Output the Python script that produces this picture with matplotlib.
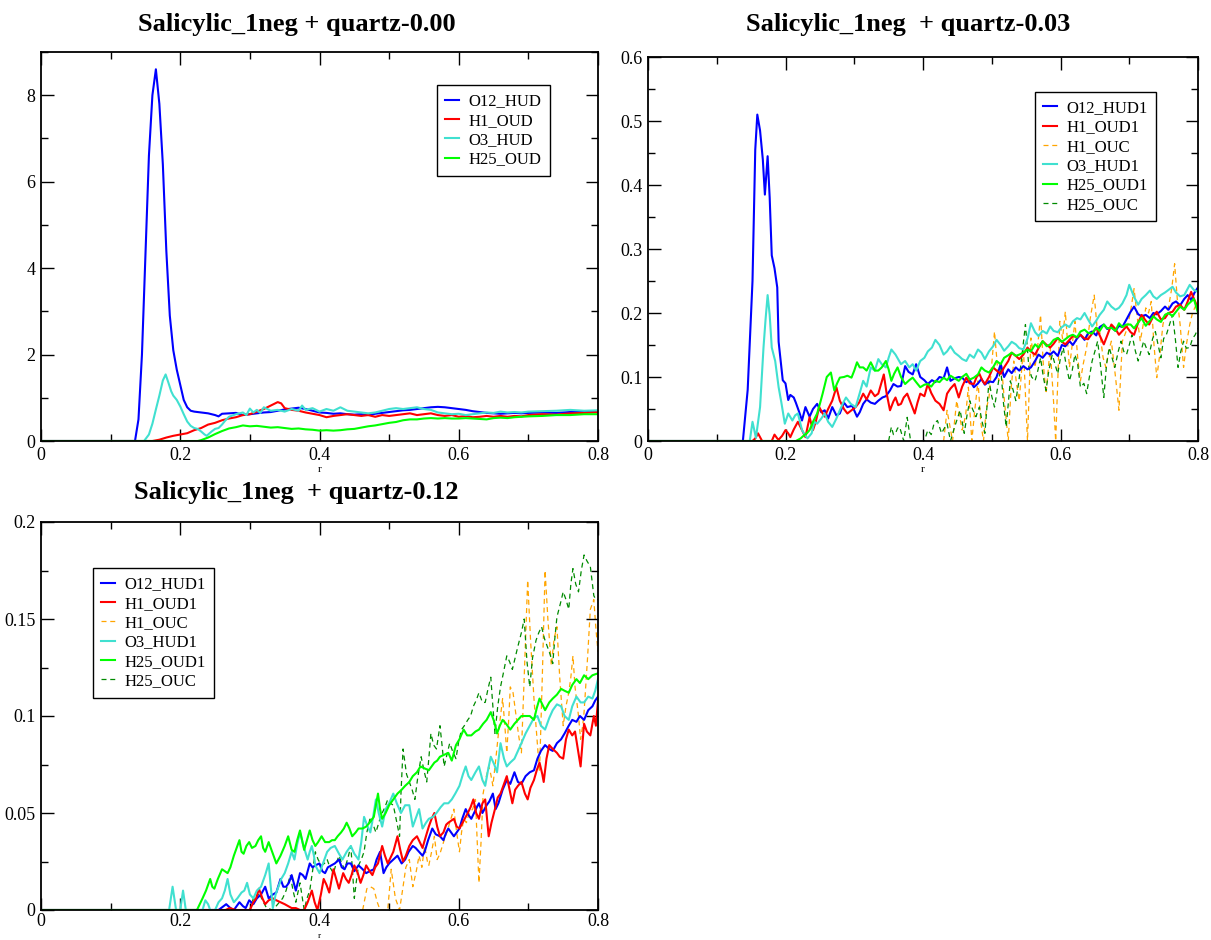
import matplotlib
matplotlib.use("Agg")
import matplotlib.pyplot as plt
from matplotlib.ticker import MultipleLocator, FuncFormatter

plt.rcParams['font.family'] = ['Liberation Serif', 'DejaVu Serif']

# ---------------- panel 1: quartz-0.00 (r, g) ----------------
p1_O12_HUD = [(0, 0), (0.135, 0), (0.14, 0.5), (0.145, 2.0), (0.15, 4.3), (0.155, 6.6), (0.16, 8.0), (0.165, 8.6),
              (0.17, 7.8), (0.175, 6.4), (0.18, 4.4), (0.185, 2.9), (0.19, 2.1), (0.195, 1.65), (0.2, 1.3), (0.205, 0.95),
              (0.21, 0.78), (0.215, 0.7), (0.22, 0.68), (0.23, 0.66), (0.24, 0.64), (0.25, 0.6), (0.255, 0.57), (0.26, 0.63),
              (0.27, 0.64), (0.28, 0.65), (0.29, 0.6), (0.3, 0.62), (0.31, 0.64), (0.32, 0.66), (0.33, 0.67), (0.34, 0.7),
              (0.35, 0.73), (0.36, 0.75), (0.37, 0.77), (0.38, 0.74), (0.39, 0.7), (0.4, 0.66), (0.41, 0.65), (0.42, 0.63),
              (0.43, 0.64), (0.44, 0.62), (0.45, 0.61), (0.46, 0.62), (0.47, 0.6), (0.48, 0.63), (0.49, 0.65), (0.5, 0.67),
              (0.51, 0.69), (0.52, 0.71), (0.53, 0.72), (0.54, 0.74), (0.55, 0.76), (0.56, 0.78), (0.57, 0.79), (0.58, 0.78),
              (0.59, 0.76), (0.6, 0.74), (0.61, 0.72), (0.62, 0.69), (0.63, 0.67), (0.64, 0.65), (0.65, 0.64), (0.66, 0.63),
              (0.67, 0.64), (0.68, 0.65), (0.69, 0.64), (0.7, 0.65), (0.72, 0.66), (0.74, 0.65), (0.76, 0.67), (0.78, 0.68),
              (0.8, 0.69)]
p1_H1_OUD = [(0, 0), (0.16, 0), (0.17, 0.03), (0.18, 0.08), (0.19, 0.12), (0.2, 0.15), (0.21, 0.18), (0.22, 0.25),
             (0.23, 0.3), (0.24, 0.38), (0.25, 0.42), (0.26, 0.48), (0.27, 0.52), (0.28, 0.55), (0.29, 0.6), (0.3, 0.62),
             (0.31, 0.68), (0.32, 0.74), (0.33, 0.82), (0.335, 0.86), (0.34, 0.9), (0.345, 0.87), (0.35, 0.76), (0.36, 0.72),
             (0.37, 0.7), (0.38, 0.66), (0.39, 0.63), (0.4, 0.6), (0.41, 0.55), (0.42, 0.58), (0.43, 0.6), (0.44, 0.62),
             (0.45, 0.6), (0.46, 0.58), (0.47, 0.6), (0.48, 0.56), (0.49, 0.6), (0.5, 0.58), (0.51, 0.6), (0.52, 0.62),
             (0.53, 0.64), (0.54, 0.6), (0.55, 0.62), (0.56, 0.64), (0.57, 0.6), (0.58, 0.58), (0.59, 0.6), (0.6, 0.56),
             (0.61, 0.58), (0.62, 0.55), (0.63, 0.56), (0.64, 0.58), (0.65, 0.56), (0.66, 0.58), (0.67, 0.56), (0.68, 0.58),
             (0.69, 0.57), (0.7, 0.6), (0.72, 0.62), (0.74, 0.61), (0.76, 0.64), (0.78, 0.65), (0.8, 0.67)]
p1_O3_HUD = [(0, 0), (0.148, 0), (0.155, 0.15), (0.16, 0.4), (0.165, 0.73), (0.17, 1.05), (0.175, 1.4), (0.179, 1.54),
             (0.183, 1.35), (0.187, 1.15), (0.19, 1.05), (0.195, 0.95), (0.2, 0.8), (0.205, 0.62), (0.21, 0.45), (0.215, 0.35),
             (0.22, 0.3), (0.225, 0.28), (0.23, 0.22), (0.235, 0.15), (0.238, 0.12), (0.245, 0.22), (0.25, 0.28), (0.255, 0.3),
             (0.26, 0.38), (0.265, 0.48), (0.27, 0.56), (0.28, 0.62), (0.29, 0.66), (0.295, 0.6), (0.3, 0.75), (0.305, 0.66),
             (0.31, 0.72), (0.315, 0.65), (0.32, 0.78), (0.33, 0.7), (0.34, 0.72), (0.35, 0.68), (0.36, 0.74), (0.37, 0.7),
             (0.375, 0.82), (0.38, 0.72), (0.39, 0.76), (0.4, 0.68), (0.41, 0.74), (0.42, 0.7), (0.43, 0.78), (0.44, 0.7),
             (0.45, 0.68), (0.46, 0.66), (0.47, 0.64), (0.48, 0.66), (0.49, 0.7), (0.5, 0.74), (0.51, 0.76), (0.52, 0.74),
             (0.53, 0.76), (0.54, 0.78), (0.55, 0.74), (0.56, 0.72), (0.57, 0.66), (0.58, 0.64), (0.59, 0.62), (0.6, 0.63),
             (0.61, 0.6), (0.62, 0.62), (0.63, 0.64), (0.64, 0.66), (0.65, 0.65), (0.66, 0.68), (0.67, 0.66), (0.68, 0.67),
             (0.69, 0.66), (0.7, 0.68), (0.72, 0.69), (0.74, 0.7), (0.76, 0.72), (0.78, 0.7), (0.8, 0.71)]
p1_H25_OUD = [(0, 0), (0.225, 0), (0.23, 0.02), (0.24, 0.08), (0.25, 0.16), (0.26, 0.23), (0.27, 0.29), (0.28, 0.32),
              (0.29, 0.36), (0.3, 0.34), (0.31, 0.35), (0.32, 0.33), (0.33, 0.31), (0.34, 0.32), (0.35, 0.3), (0.36, 0.28),
              (0.37, 0.29), (0.38, 0.27), (0.39, 0.26), (0.4, 0.24), (0.41, 0.25), (0.42, 0.24), (0.43, 0.25), (0.44, 0.27),
              (0.45, 0.28), (0.46, 0.31), (0.47, 0.34), (0.48, 0.36), (0.49, 0.39), (0.5, 0.42), (0.51, 0.44), (0.52, 0.48),
              (0.53, 0.5), (0.54, 0.5), (0.55, 0.52), (0.56, 0.53), (0.57, 0.52), (0.58, 0.53), (0.59, 0.52), (0.6, 0.52),
              (0.61, 0.53), (0.62, 0.52), (0.63, 0.51), (0.64, 0.5), (0.65, 0.53), (0.66, 0.54), (0.67, 0.53), (0.68, 0.55),
              (0.69, 0.56), (0.7, 0.57), (0.72, 0.58), (0.74, 0.6), (0.76, 0.6), (0.78, 0.62), (0.8, 0.62)]

# ---------------- panel 2: quartz-0.03 (r, g) ----------------
p2_O12_HUD1 = [(0, 0), (0.138, 0), (0.145, 0.08), (0.152, 0.25), (0.156, 0.455), (0.159, 0.51), (0.163, 0.485), (0.167, 0.44),
               (0.17, 0.385), (0.174, 0.445), (0.177, 0.38), (0.18, 0.29), (0.184, 0.27), (0.188, 0.24), (0.19, 0.155),
               (0.196, 0.095), (0.2, 0.09), (0.204, 0.064), (0.207, 0.072), (0.212, 0.068), (0.215, 0.06), (0.22, 0.045),
               (0.224, 0.032), (0.229, 0.053), (0.235, 0.038), (0.24, 0.05), (0.246, 0.058), (0.252, 0.045), (0.257, 0.048),
               (0.262, 0.035), (0.268, 0.053), (0.274, 0.04), (0.279, 0.043), (0.285, 0.06), (0.29, 0.053), (0.297, 0.055),
               (0.304, 0.038), (0.308, 0.045), (0.313, 0.058), (0.318, 0.065), (0.324, 0.06), (0.33, 0.058), (0.335, 0.063),
               (0.341, 0.068), (0.346, 0.07), (0.352, 0.079), (0.357, 0.089), (0.363, 0.085), (0.368, 0.086), (0.374, 0.117),
               (0.379, 0.108), (0.385, 0.104), (0.39, 0.12), (0.396, 0.1), (0.402, 0.095), (0.407, 0.089), (0.413, 0.095),
               (0.418, 0.092), (0.424, 0.1), (0.43, 0.098), (0.435, 0.115), (0.44, 0.094), (0.446, 0.098), (0.452, 0.1),
               (0.457, 0.099), (0.463, 0.092), (0.468, 0.095), (0.474, 0.084), (0.48, 0.09), (0.485, 0.097), (0.49, 0.088),
               (0.496, 0.093), (0.502, 0.092), (0.507, 0.1), (0.513, 0.12), (0.518, 0.1), (0.524, 0.112), (0.529, 0.106),
               (0.535, 0.115), (0.54, 0.11), (0.546, 0.117), (0.552, 0.112), (0.557, 0.115), (0.563, 0.125), (0.568, 0.135),
               (0.574, 0.13), (0.58, 0.138), (0.585, 0.135), (0.59, 0.14), (0.596, 0.133), (0.602, 0.15), (0.607, 0.148),
               (0.613, 0.156), (0.618, 0.15), (0.624, 0.16), (0.629, 0.166), (0.635, 0.158), (0.64, 0.168), (0.646, 0.171),
               (0.652, 0.165), (0.657, 0.178), (0.663, 0.182), (0.668, 0.175), (0.674, 0.178), (0.68, 0.172), (0.685, 0.18),
               (0.69, 0.178), (0.696, 0.19), (0.702, 0.202), (0.707, 0.21), (0.713, 0.198), (0.718, 0.195), (0.724, 0.197),
               (0.73, 0.192), (0.735, 0.2), (0.74, 0.198), (0.746, 0.203), (0.752, 0.21), (0.757, 0.205), (0.763, 0.215),
               (0.768, 0.218), (0.774, 0.212), (0.78, 0.222), (0.785, 0.228), (0.79, 0.22), (0.795, 0.232), (0.8, 0.24)]
p2_H1_OUD1 = [(0, 0), (0.152, 0), (0.156, 0.004), (0.16, 0.012), (0.163, 0.006), (0.166, 0), (0.18, 0), (0.184, 0.01),
              (0.188, 0.004), (0.19, 0.002), (0.195, 0.008), (0.2, 0.017), (0.204, 0.012), (0.207, 0.006), (0.212, 0.018),
              (0.218, 0.03), (0.224, 0.017), (0.229, 0.006), (0.235, 0.037), (0.24, 0.017), (0.244, 0.03), (0.249, 0.053),
              (0.253, 0.045), (0.257, 0.038), (0.262, 0.05), (0.268, 0.063), (0.274, 0.084), (0.279, 0.063), (0.285, 0.05),
              (0.29, 0.043), (0.296, 0.048), (0.302, 0.053), (0.307, 0.06), (0.313, 0.074), (0.318, 0.065), (0.324, 0.079),
              (0.33, 0.07), (0.335, 0.074), (0.343, 0.104), (0.347, 0.075), (0.352, 0.048), (0.357, 0.062), (0.36, 0.068),
              (0.364, 0.056), (0.368, 0.058), (0.372, 0.068), (0.377, 0.074), (0.382, 0.06), (0.388, 0.043), (0.392, 0.06),
              (0.396, 0.074), (0.402, 0.07), (0.407, 0.089), (0.412, 0.075), (0.418, 0.063), (0.424, 0.058), (0.43, 0.048),
              (0.435, 0.074), (0.44, 0.082), (0.446, 0.089), (0.452, 0.068), (0.457, 0.085), (0.463, 0.099), (0.468, 0.09),
              (0.474, 0.089), (0.478, 0.1), (0.482, 0.105), (0.486, 0.095), (0.49, 0.089), (0.496, 0.1), (0.502, 0.115),
              (0.507, 0.11), (0.513, 0.105), (0.518, 0.115), (0.524, 0.125), (0.529, 0.138), (0.535, 0.133), (0.54, 0.128),
              (0.546, 0.135), (0.552, 0.146), (0.557, 0.14), (0.563, 0.135), (0.568, 0.145), (0.574, 0.156), (0.58, 0.15),
              (0.585, 0.146), (0.59, 0.152), (0.596, 0.161), (0.602, 0.155), (0.607, 0.151), (0.613, 0.158), (0.618, 0.164),
              (0.624, 0.162), (0.629, 0.166), (0.635, 0.16), (0.64, 0.159), (0.646, 0.168), (0.652, 0.177), (0.657, 0.165),
              (0.663, 0.151), (0.668, 0.165), (0.674, 0.182), (0.68, 0.175), (0.685, 0.166), (0.69, 0.172), (0.696, 0.179),
              (0.702, 0.17), (0.707, 0.166), (0.713, 0.185), (0.718, 0.197), (0.724, 0.188), (0.729, 0.182), (0.735, 0.195),
              (0.74, 0.202), (0.746, 0.19), (0.752, 0.192), (0.757, 0.2), (0.763, 0.202), (0.768, 0.21), (0.774, 0.213),
              (0.78, 0.205), (0.785, 0.218), (0.79, 0.233), (0.795, 0.22), (0.8, 0.208)]
p2_H1_OUC = [(0.43, 0), (0.435, 0.048), (0.443, 0), (0.449, 0.063), (0.457, 0.017), (0.462, 0.04), (0.466, 0.084), (0.471, 0),
             (0.475, 0.045), (0.48, 0.094), (0.484, 0.03), (0.488, 0), (0.492, 0.05), (0.496, 0.068), (0.5, 0.12), (0.504, 0.171),
             (0.51, 0.094), (0.514, 0.12), (0.518, 0.068), (0.524, 0), (0.528, 0.08), (0.532, 0.125), (0.536, 0.09),
             (0.54, 0.063), (0.546, 0.146), (0.552, 0), (0.557, 0.161), (0.563, 0.115), (0.567, 0.15), (0.571, 0.197),
             (0.575, 0.12), (0.579, 0.074), (0.585, 0.146), (0.59, 0.06), (0.593, 0), (0.599, 0.187), (0.603, 0.16),
             (0.607, 0.202), (0.613, 0.115), (0.617, 0.15), (0.621, 0.187), (0.625, 0.13), (0.629, 0.094), (0.633, 0.12),
             (0.638, 0.146), (0.643, 0.19), (0.649, 0.228), (0.653, 0.18), (0.657, 0.171), (0.662, 0.13), (0.666, 0.115),
             (0.67, 0.14), (0.674, 0.156), (0.68, 0.1), (0.685, 0.048), (0.69, 0.156), (0.695, 0.17), (0.699, 0.187),
             (0.703, 0.21), (0.707, 0.238), (0.712, 0.19), (0.716, 0.156), (0.72, 0.18), (0.724, 0.208), (0.728, 0.2),
             (0.732, 0.218), (0.736, 0.15), (0.74, 0.099), (0.745, 0.14), (0.749, 0.182), (0.753, 0.2), (0.757, 0.208),
             (0.762, 0.24), (0.766, 0.277), (0.77, 0.22), (0.774, 0.182), (0.779, 0.115), (0.783, 0.15), (0.788, 0.182),
             (0.792, 0.2), (0.796, 0.21), (0.8, 0.208)]
p2_O3_HUD1 = [(0, 0), (0.148, 0), (0.152, 0.03), (0.157, 0.005), (0.163, 0.053), (0.168, 0.146), (0.171, 0.19), (0.174, 0.228),
              (0.177, 0.197), (0.18, 0.146), (0.185, 0.125), (0.19, 0.084), (0.194, 0.06), (0.199, 0.027), (0.204, 0.043),
              (0.21, 0.032), (0.214, 0.04), (0.218, 0.043), (0.224, 0.017), (0.228, 0.01), (0.232, 0.004), (0.238, 0.012),
              (0.242, 0.03), (0.246, 0.027), (0.252, 0.035), (0.257, 0.043), (0.262, 0.03), (0.268, 0.022), (0.274, 0.035),
              (0.279, 0.048), (0.284, 0.06), (0.288, 0.068), (0.295, 0.058), (0.302, 0.053), (0.308, 0.075), (0.313, 0.094),
              (0.318, 0.085), (0.324, 0.115), (0.33, 0.11), (0.335, 0.128), (0.34, 0.12), (0.346, 0.115), (0.35, 0.13),
              (0.354, 0.143), (0.36, 0.135), (0.368, 0.12), (0.374, 0.125), (0.38, 0.115), (0.385, 0.12), (0.39, 0.11),
              (0.396, 0.125), (0.402, 0.13), (0.407, 0.14), (0.413, 0.146), (0.418, 0.158), (0.424, 0.15), (0.43, 0.135),
              (0.435, 0.14), (0.44, 0.148), (0.446, 0.138), (0.452, 0.133), (0.457, 0.128), (0.463, 0.125), (0.468, 0.135),
              (0.474, 0.13), (0.48, 0.143), (0.485, 0.138), (0.49, 0.128), (0.496, 0.14), (0.502, 0.148), (0.507, 0.158),
              (0.513, 0.15), (0.518, 0.141), (0.524, 0.148), (0.529, 0.155), (0.535, 0.151), (0.54, 0.145), (0.546, 0.143),
              (0.552, 0.16), (0.557, 0.184), (0.563, 0.17), (0.568, 0.164), (0.574, 0.172), (0.58, 0.168), (0.585, 0.179),
              (0.59, 0.172), (0.596, 0.17), (0.601, 0.177), (0.607, 0.182), (0.613, 0.178), (0.618, 0.187), (0.624, 0.192),
              (0.629, 0.19), (0.635, 0.2), (0.64, 0.19), (0.646, 0.179), (0.652, 0.188), (0.657, 0.197), (0.663, 0.205),
              (0.668, 0.218), (0.674, 0.21), (0.68, 0.205), (0.685, 0.208), (0.69, 0.215), (0.696, 0.228), (0.7, 0.244),
              (0.707, 0.225), (0.713, 0.213), (0.718, 0.222), (0.724, 0.228), (0.73, 0.235), (0.735, 0.226), (0.74, 0.222),
              (0.746, 0.228), (0.752, 0.232), (0.757, 0.236), (0.763, 0.241), (0.768, 0.232), (0.774, 0.226), (0.78, 0.228),
              (0.785, 0.238), (0.788, 0.244), (0.794, 0.236), (0.8, 0.233)]
p2_H25_OUD1 = [(0, 0), (0.215, 0), (0.222, 0.004), (0.227, 0.009), (0.231, 0.012), (0.235, 0.017), (0.24, 0.03), (0.246, 0.043),
               (0.25, 0.058), (0.254, 0.074), (0.26, 0.1), (0.266, 0.107), (0.271, 0.079), (0.275, 0.09), (0.279, 0.099),
               (0.285, 0.1), (0.29, 0.102), (0.296, 0.099), (0.3, 0.11), (0.304, 0.123), (0.308, 0.115), (0.313, 0.115),
               (0.318, 0.11), (0.324, 0.123), (0.33, 0.11), (0.335, 0.11), (0.34, 0.115), (0.346, 0.125), (0.35, 0.112),
               (0.354, 0.094), (0.358, 0.105), (0.363, 0.115), (0.368, 0.1), (0.374, 0.089), (0.38, 0.095), (0.385, 0.099),
               (0.39, 0.092), (0.396, 0.084), (0.402, 0.088), (0.407, 0.089), (0.412, 0.085), (0.418, 0.094), (0.424, 0.092),
               (0.43, 0.099), (0.435, 0.095), (0.44, 0.102), (0.446, 0.098), (0.452, 0.094), (0.457, 0.1), (0.463, 0.105),
               (0.468, 0.096), (0.474, 0.099), (0.48, 0.104), (0.485, 0.115), (0.49, 0.11), (0.496, 0.107), (0.502, 0.115),
               (0.507, 0.125), (0.513, 0.12), (0.518, 0.13), (0.524, 0.134), (0.529, 0.138), (0.535, 0.133), (0.54, 0.135),
               (0.546, 0.138), (0.552, 0.143), (0.557, 0.14), (0.563, 0.151), (0.568, 0.146), (0.574, 0.156), (0.58, 0.148),
               (0.585, 0.151), (0.59, 0.158), (0.596, 0.161), (0.602, 0.155), (0.607, 0.159), (0.613, 0.164), (0.618, 0.166),
               (0.624, 0.162), (0.629, 0.171), (0.635, 0.174), (0.64, 0.169), (0.646, 0.168), (0.652, 0.177), (0.657, 0.172),
               (0.663, 0.182), (0.668, 0.176), (0.674, 0.177), (0.68, 0.172), (0.685, 0.184), (0.69, 0.178), (0.696, 0.182),
               (0.702, 0.182), (0.707, 0.176), (0.713, 0.185), (0.718, 0.192), (0.724, 0.18), (0.73, 0.188), (0.735, 0.195),
               (0.74, 0.19), (0.746, 0.186), (0.752, 0.197), (0.757, 0.2), (0.763, 0.195), (0.768, 0.202), (0.774, 0.21),
               (0.78, 0.205), (0.785, 0.213), (0.79, 0.218), (0.794, 0.222), (0.8, 0.2)]
p2_H25_OUC = [(0.35, 0), (0.354, 0.022), (0.357, 0.01), (0.36, 0.012), (0.363, 0.02), (0.366, 0.022), (0.372, 0), (0.377, 0.037),
              (0.382, 0), (0.402, 0), (0.407, 0.017), (0.412, 0.01), (0.416, 0.027), (0.421, 0.032), (0.427, 0.012),
              (0.431, 0.02), (0.435, 0.027), (0.44, 0), (0.446, 0.022), (0.45, 0.035), (0.454, 0.048), (0.46, 0.012),
              (0.464, 0.04), (0.468, 0.063), (0.472, 0.05), (0.477, 0.038), (0.482, 0.053), (0.486, 0.03), (0.49, 0.012),
              (0.496, 0.094), (0.5, 0.07), (0.504, 0.053), (0.508, 0.08), (0.513, 0.115), (0.517, 0.06), (0.521, 0.022),
              (0.527, 0.094), (0.531, 0.08), (0.535, 0.063), (0.539, 0.09), (0.543, 0.125), (0.549, 0.182), (0.554, 0.115),
              (0.558, 0.1), (0.563, 0.094), (0.567, 0.11), (0.571, 0.13), (0.575, 0.1), (0.579, 0.079), (0.583, 0.11),
              (0.588, 0.135), (0.592, 0.12), (0.596, 0.105), (0.6, 0.13), (0.604, 0.146), (0.608, 0.12), (0.613, 0.094),
              (0.617, 0.11), (0.621, 0.135), (0.625, 0.12), (0.629, 0.084), (0.634, 0.09), (0.638, 0.074), (0.642, 0.1),
              (0.646, 0.125), (0.65, 0.14), (0.654, 0.156), (0.658, 0.12), (0.663, 0.068), (0.667, 0.12), (0.671, 0.146),
              (0.675, 0.13), (0.679, 0.115), (0.684, 0.14), (0.688, 0.156), (0.692, 0.14), (0.696, 0.135), (0.7, 0.15),
              (0.704, 0.166), (0.709, 0.14), (0.713, 0.125), (0.717, 0.14), (0.721, 0.156), (0.725, 0.145), (0.729, 0.135),
              (0.734, 0.16), (0.738, 0.171), (0.742, 0.15), (0.746, 0.13), (0.75, 0.16), (0.754, 0.166), (0.758, 0.18),
              (0.763, 0.197), (0.767, 0.16), (0.771, 0.115), (0.775, 0.14), (0.779, 0.156), (0.783, 0.145), (0.788, 0.146),
              (0.792, 0.16), (0.796, 0.166), (0.8, 0.176)]

# ---------------- panel 3: quartz-0.12 (r, g) ----------------
p3_O12_HUD1 = [(0, 0), (0.255, 0), (0.266, 0.003), (0.272, 0.001), (0.277, 0), (0.285, 0.004), (0.29, 0.002), (0.294, 0.001),
               (0.299, 0.005), (0.305, 0.003), (0.31, 0.006), (0.316, 0.008), (0.322, 0.012), (0.327, 0.006), (0.333, 0.008),
               (0.338, 0.009), (0.344, 0.016), (0.348, 0.012), (0.352, 0.012), (0.356, 0.014), (0.36, 0.018), (0.366, 0.01),
               (0.372, 0.019), (0.376, 0.018), (0.38, 0.016), (0.386, 0.024), (0.39, 0.022), (0.394, 0.023), (0.4, 0.024),
               (0.404, 0.02), (0.408, 0.019), (0.412, 0.022), (0.417, 0.023), (0.422, 0.024), (0.428, 0.026), (0.432, 0.022),
               (0.436, 0.021), (0.44, 0.024), (0.445, 0.024), (0.45, 0.02), (0.456, 0.023), (0.462, 0.021), (0.467, 0.019),
               (0.472, 0.02), (0.478, 0.021), (0.482, 0.026), (0.487, 0.03), (0.492, 0.019), (0.496, 0.022), (0.5, 0.024),
               (0.506, 0.026), (0.512, 0.028), (0.518, 0.024), (0.523, 0.026), (0.528, 0.03), (0.534, 0.033), (0.538, 0.032),
               (0.543, 0.03), (0.548, 0.028), (0.551, 0.03), (0.556, 0.036), (0.562, 0.042), (0.567, 0.039), (0.573, 0.038),
               (0.578, 0.036), (0.582, 0.04), (0.585, 0.042), (0.589, 0.04), (0.593, 0.038), (0.597, 0.04), (0.601, 0.042),
               (0.605, 0.047), (0.61, 0.052), (0.614, 0.049), (0.618, 0.047), (0.622, 0.05), (0.626, 0.053), (0.629, 0.055),
               (0.634, 0.05), (0.64, 0.054), (0.644, 0.056), (0.649, 0.06), (0.653, 0.052), (0.657, 0.055), (0.663, 0.062),
               (0.669, 0.067), (0.674, 0.065), (0.68, 0.071), (0.685, 0.066), (0.69, 0.065), (0.696, 0.069), (0.702, 0.071),
               (0.708, 0.072), (0.713, 0.078), (0.718, 0.082), (0.724, 0.085), (0.73, 0.083), (0.735, 0.082), (0.741, 0.086),
               (0.747, 0.088), (0.752, 0.091), (0.758, 0.095), (0.763, 0.098), (0.769, 0.097), (0.774, 0.1), (0.78, 0.098),
               (0.786, 0.103), (0.792, 0.105), (0.796, 0.108), (0.8, 0.11)]
p3_H1_OUD1 = [(0, 0), (0.265, 0), (0.271, 0.001), (0.28, 0), (0.3, 0), (0.305, 0.004), (0.309, 0.006), (0.313, 0.011),
              (0.318, 0.006), (0.322, 0.003), (0.327, 0.005), (0.333, 0.006), (0.338, 0.005), (0.344, 0.004), (0.35, 0.003),
              (0.355, 0.002), (0.36, 0.001), (0.366, 0.001), (0.372, 0), (0.378, 0), (0.383, 0.004), (0.389, 0.01),
              (0.393, 0.004), (0.397, 0), (0.402, 0.008), (0.406, 0.016), (0.41, 0.013), (0.414, 0.009), (0.42, 0.021),
              (0.424, 0.016), (0.428, 0.011), (0.434, 0.019), (0.438, 0.016), (0.442, 0.014), (0.446, 0.018), (0.45, 0.023),
              (0.455, 0.019), (0.459, 0.014), (0.463, 0.018), (0.467, 0.023), (0.472, 0.02), (0.476, 0.018), (0.48, 0.022),
              (0.484, 0.024), (0.49, 0.033), (0.494, 0.028), (0.498, 0.024), (0.502, 0.027), (0.506, 0.03), (0.512, 0.038),
              (0.516, 0.031), (0.52, 0.025), (0.524, 0.028), (0.529, 0.033), (0.534, 0.036), (0.54, 0.038), (0.544, 0.035),
              (0.548, 0.032), (0.552, 0.037), (0.557, 0.043), (0.561, 0.047), (0.565, 0.05), (0.569, 0.043), (0.573, 0.038),
              (0.578, 0.04), (0.582, 0.044), (0.585, 0.045), (0.589, 0.046), (0.593, 0.047), (0.597, 0.043), (0.601, 0.042),
              (0.607, 0.046), (0.613, 0.05), (0.617, 0.053), (0.621, 0.057), (0.625, 0.05), (0.629, 0.047), (0.634, 0.055),
              (0.638, 0.057), (0.643, 0.038), (0.647, 0.045), (0.652, 0.052), (0.656, 0.058), (0.66, 0.06), (0.665, 0.065),
              (0.669, 0.069), (0.673, 0.062), (0.677, 0.055), (0.681, 0.062), (0.685, 0.064), (0.69, 0.066), (0.695, 0.06),
              (0.699, 0.057), (0.703, 0.063), (0.708, 0.067), (0.712, 0.072), (0.716, 0.076), (0.72, 0.07), (0.722, 0.066),
              (0.726, 0.078), (0.73, 0.085), (0.735, 0.083), (0.741, 0.081), (0.745, 0.079), (0.75, 0.078), (0.754, 0.088),
              (0.758, 0.093), (0.763, 0.09), (0.767, 0.092), (0.771, 0.083), (0.775, 0.074), (0.78, 0.096), (0.784, 0.092),
              (0.789, 0.09), (0.794, 0.1), (0.797, 0.095), (0.8, 0.108)]
p3_H1_OUC = [(0.462, 0), (0.468, 0.011), (0.473, 0.012), (0.478, 0.011), (0.483, 0.004), (0.487, 0), (0.498, 0), (0.503, 0.021),
             (0.509, 0.006), (0.515, 0), (0.52, 0.012), (0.524, 0.022), (0.529, 0.026), (0.534, 0.012), (0.539, 0.02),
             (0.543, 0.028), (0.547, 0.022), (0.551, 0.033), (0.555, 0.025), (0.557, 0.023), (0.561, 0.03), (0.565, 0.038),
             (0.569, 0.026), (0.573, 0.029), (0.579, 0.036), (0.583, 0.04), (0.587, 0.045), (0.593, 0.052), (0.597, 0.04),
             (0.601, 0.03), (0.604, 0.04), (0.607, 0.047), (0.611, 0.045), (0.615, 0.05), (0.62, 0.052), (0.624, 0.057),
             (0.629, 0.014), (0.632, 0.035), (0.635, 0.06), (0.639, 0.068), (0.643, 0.074), (0.646, 0.07), (0.649, 0.064),
             (0.653, 0.077), (0.657, 0.091), (0.66, 0.1), (0.663, 0.109), (0.666, 0.096), (0.669, 0.081), (0.672, 0.1),
             (0.674, 0.115), (0.678, 0.112), (0.682, 0.101), (0.686, 0.09), (0.69, 0.081), (0.694, 0.12), (0.699, 0.17),
             (0.703, 0.14), (0.708, 0.109), (0.712, 0.09), (0.716, 0.071), (0.72, 0.12), (0.724, 0.175), (0.728, 0.15),
             (0.733, 0.126), (0.737, 0.14), (0.741, 0.146), (0.745, 0.12), (0.75, 0.095), (0.754, 0.105), (0.758, 0.112),
             (0.761, 0.12), (0.764, 0.131), (0.767, 0.115), (0.769, 0.109), (0.772, 0.1), (0.775, 0.088), (0.778, 0.095),
             (0.78, 0.102), (0.785, 0.13), (0.789, 0.155), (0.794, 0.16), (0.797, 0.145), (0.8, 0.133)]
p3_O3_HUD1 = [(0, 0), (0.184, 0), (0.189, 0.012), (0.194, 0), (0.2, 0), (0.204, 0.01), (0.208, 0), (0.232, 0), (0.236, 0.005),
              (0.24, 0.003), (0.243, 0), (0.25, 0), (0.255, 0.004), (0.26, 0.006), (0.264, 0.01), (0.268, 0.016), (0.272, 0.008),
              (0.277, 0.004), (0.282, 0.006), (0.288, 0.009), (0.292, 0.01), (0.296, 0.014), (0.3, 0.008), (0.305, 0.006),
              (0.31, 0.01), (0.316, 0.012), (0.322, 0.018), (0.327, 0.024), (0.33, 0.012), (0.333, 0.001), (0.337, 0.008),
              (0.341, 0.012), (0.345, 0.016), (0.35, 0.019), (0.355, 0.024), (0.36, 0.03), (0.364, 0.026), (0.368, 0.034),
              (0.372, 0.04), (0.377, 0.033), (0.383, 0.026), (0.386, 0.03), (0.389, 0.033), (0.392, 0.028), (0.394, 0.023),
              (0.4, 0.019), (0.405, 0.024), (0.411, 0.03), (0.416, 0.032), (0.422, 0.033), (0.428, 0.029), (0.433, 0.026),
              (0.439, 0.03), (0.445, 0.033), (0.45, 0.029), (0.456, 0.026), (0.46, 0.035), (0.464, 0.048), (0.468, 0.044),
              (0.473, 0.04), (0.477, 0.048), (0.481, 0.057), (0.485, 0.05), (0.49, 0.043), (0.495, 0.052), (0.5, 0.055),
              (0.506, 0.06), (0.511, 0.055), (0.517, 0.05), (0.523, 0.054), (0.529, 0.054), (0.534, 0.043), (0.539, 0.048),
              (0.543, 0.052), (0.548, 0.042), (0.553, 0.045), (0.557, 0.047), (0.563, 0.048), (0.568, 0.05), (0.574, 0.053),
              (0.579, 0.055), (0.585, 0.055), (0.59, 0.057), (0.595, 0.06), (0.601, 0.064), (0.606, 0.07), (0.61, 0.074),
              (0.614, 0.069), (0.618, 0.067), (0.624, 0.071), (0.629, 0.074), (0.634, 0.067), (0.638, 0.064), (0.642, 0.072),
              (0.646, 0.079), (0.651, 0.075), (0.655, 0.071), (0.66, 0.086), (0.665, 0.078), (0.669, 0.074), (0.674, 0.076),
              (0.68, 0.078), (0.685, 0.082), (0.69, 0.086), (0.696, 0.091), (0.702, 0.095), (0.708, 0.099), (0.713, 0.1),
              (0.718, 0.095), (0.724, 0.093), (0.73, 0.099), (0.735, 0.103), (0.741, 0.106), (0.747, 0.105), (0.752, 0.1),
              (0.758, 0.098), (0.763, 0.105), (0.769, 0.11), (0.775, 0.107), (0.78, 0.107), (0.786, 0.11), (0.792, 0.109),
              (0.796, 0.113), (0.8, 0.119)]
p3_H25_OUD1 = [(0, 0), (0.224, 0), (0.228, 0.003), (0.232, 0.006), (0.237, 0.01), (0.243, 0.016), (0.246, 0.012), (0.249, 0.011),
               (0.254, 0.016), (0.26, 0.021), (0.264, 0.02), (0.268, 0.019), (0.272, 0.022), (0.277, 0.028), (0.281, 0.032),
               (0.285, 0.036), (0.288, 0.03), (0.291, 0.029), (0.295, 0.033), (0.299, 0.035), (0.303, 0.032), (0.308, 0.033),
               (0.312, 0.036), (0.316, 0.038), (0.319, 0.032), (0.322, 0.03), (0.327, 0.035), (0.332, 0.03), (0.338, 0.024),
               (0.344, 0.028), (0.35, 0.033), (0.355, 0.038), (0.36, 0.031), (0.364, 0.03), (0.368, 0.036), (0.372, 0.041),
               (0.378, 0.031), (0.382, 0.036), (0.386, 0.041), (0.39, 0.036), (0.394, 0.033), (0.398, 0.035), (0.403, 0.038),
               (0.408, 0.035), (0.414, 0.035), (0.418, 0.036), (0.422, 0.036), (0.426, 0.038), (0.431, 0.04), (0.435, 0.042),
               (0.439, 0.045), (0.443, 0.042), (0.447, 0.038), (0.452, 0.04), (0.456, 0.042), (0.462, 0.042), (0.467, 0.043),
               (0.472, 0.045), (0.478, 0.048), (0.484, 0.06), (0.487, 0.052), (0.49, 0.047), (0.495, 0.05), (0.5, 0.054),
               (0.506, 0.057), (0.512, 0.06), (0.518, 0.062), (0.523, 0.064), (0.529, 0.066), (0.534, 0.069), (0.54, 0.071),
               (0.545, 0.074), (0.551, 0.073), (0.557, 0.072), (0.561, 0.074), (0.565, 0.076), (0.569, 0.077), (0.573, 0.079),
               (0.579, 0.08), (0.585, 0.081), (0.59, 0.077), (0.596, 0.085), (0.601, 0.088), (0.607, 0.093), (0.612, 0.09),
               (0.618, 0.09), (0.624, 0.092), (0.629, 0.093), (0.635, 0.096), (0.64, 0.098), (0.646, 0.102), (0.651, 0.097),
               (0.655, 0.091), (0.659, 0.095), (0.663, 0.098), (0.668, 0.096), (0.674, 0.093), (0.68, 0.096), (0.685, 0.098),
               (0.69, 0.1), (0.696, 0.1), (0.702, 0.1), (0.708, 0.098), (0.712, 0.104), (0.716, 0.109), (0.72, 0.106),
               (0.724, 0.103), (0.73, 0.107), (0.735, 0.109), (0.741, 0.111), (0.747, 0.114), (0.752, 0.113), (0.758, 0.112),
               (0.763, 0.116), (0.769, 0.119), (0.774, 0.117), (0.78, 0.121), (0.786, 0.119), (0.792, 0.121), (0.8, 0.122)]
p3_H25_OUC = [(0.3, 0), (0.305, 0.006), (0.309, 0.005), (0.313, 0.009), (0.318, 0.005), (0.324, 0.001), (0.333, 0), (0.34, 0.003),
              (0.347, 0.006), (0.352, 0.01), (0.358, 0.018), (0.362, 0.01), (0.366, 0.004), (0.372, 0.014), (0.378, 0),
              (0.382, 0.006), (0.386, 0.01), (0.39, 0.02), (0.394, 0.03), (0.398, 0.026), (0.403, 0.023), (0.407, 0.024),
              (0.411, 0.026), (0.415, 0.022), (0.42, 0.019), (0.424, 0.024), (0.428, 0.028), (0.432, 0.024), (0.436, 0.021),
              (0.441, 0.027), (0.445, 0.033), (0.45, 0.006), (0.453, 0.015), (0.456, 0.023), (0.46, 0.026), (0.464, 0.03),
              (0.468, 0.04), (0.473, 0.048), (0.477, 0.044), (0.481, 0.04), (0.486, 0.046), (0.49, 0.05), (0.494, 0.053),
              (0.498, 0.057), (0.502, 0.055), (0.506, 0.054), (0.51, 0.047), (0.515, 0.038), (0.517, 0.06), (0.52, 0.083),
              (0.525, 0.07), (0.529, 0.066), (0.533, 0.062), (0.537, 0.057), (0.541, 0.068), (0.546, 0.079), (0.55, 0.072),
              (0.554, 0.066), (0.557, 0.078), (0.56, 0.091), (0.564, 0.085), (0.568, 0.083), (0.573, 0.095), (0.576, 0.085),
              (0.579, 0.074), (0.583, 0.08), (0.587, 0.086), (0.591, 0.082), (0.596, 0.078), (0.6, 0.087), (0.604, 0.093),
              (0.608, 0.095), (0.613, 0.098), (0.617, 0.1), (0.621, 0.105), (0.625, 0.108), (0.629, 0.112), (0.634, 0.107),
              (0.638, 0.107), (0.642, 0.114), (0.646, 0.12), (0.649, 0.105), (0.652, 0.091), (0.656, 0.105), (0.66, 0.115),
              (0.664, 0.122), (0.669, 0.131), (0.673, 0.128), (0.677, 0.124), (0.681, 0.13), (0.685, 0.136), (0.69, 0.143),
              (0.694, 0.15), (0.698, 0.128), (0.702, 0.115), (0.706, 0.13), (0.711, 0.139), (0.715, 0.143), (0.719, 0.146),
              (0.723, 0.14), (0.727, 0.136), (0.731, 0.132), (0.735, 0.127), (0.738, 0.14), (0.741, 0.151), (0.746, 0.158),
              (0.75, 0.164), (0.754, 0.16), (0.758, 0.155), (0.761, 0.168), (0.764, 0.176), (0.768, 0.168), (0.772, 0.164),
              (0.776, 0.175), (0.78, 0.183), (0.784, 0.18), (0.789, 0.177), (0.794, 0.162), (0.797, 0.16), (0.8, 0.16)]

# ---------------- styles ----------------
BLUE, RED, ORANGE, TURQ, GREEN, DKGREEN = '#0000ff', '#ff0000', '#ffa500', '#40e0d0', '#00ff00', '#008b00'
solid = dict(lw=1.5, ls='-')
dashed = dict(lw=0.9, ls=(0, (4, 3)))

panels = [
    dict(rect=[41, 52, 598, 441], title='Salicylic_1neg + quartz-0.00', title_xy=(297, 25),
         ymax=9, ymajor=2, yminor=1, leg_anchor=(0.711, 0.915), r_off=24, r_size=8, xpad=4,
         series=[('O12_HUD', p1_O12_HUD, BLUE, solid), ('H1_OUD', p1_H1_OUD, RED, solid),
                 ('O3_HUD', p1_O3_HUD, TURQ, solid), ('H25_OUD', p1_H25_OUD, GREEN, solid)]),
    dict(rect=[648, 57, 1198, 441], title='Salicylic_1neg  + quartz-0.03', title_xy=(908, 25),
         ymax=0.6, ymajor=0.1, yminor=0.05, leg_anchor=(0.7036, 0.909), r_off=24, r_size=8, xpad=4,
         series=[('O12_HUD1', p2_O12_HUD1, BLUE, solid), ('H1_OUD1', p2_H1_OUD1, RED, solid),
                 ('H1_OUC', p2_H1_OUC, ORANGE, dashed), ('O3_HUD1', p2_O3_HUD1, TURQ, solid),
                 ('H25_OUD1', p2_H25_OUD1, GREEN, solid), ('H25_OUC', p2_H25_OUC, DKGREEN, dashed)]),
    dict(rect=[41, 522, 598, 910], title='Salicylic_1neg  + quartz-0.12', title_xy=(296, 492),
         ymax=0.2, ymajor=0.05, yminor=0.025, leg_anchor=(0.0934, 0.881), r_off=21.5, r_size=6.5, xpad=2,
         series=[('O12_HUD1', p3_O12_HUD1, BLUE, solid), ('H1_OUD1', p3_H1_OUD1, RED, solid),
                 ('H1_OUC', p3_H1_OUC, ORANGE, dashed), ('O3_HUD1', p3_O3_HUD1, TURQ, solid),
                 ('H25_OUD1', p3_H25_OUD1, GREEN, solid), ('H25_OUC', p3_H25_OUC, DKGREEN, dashed)]),
]

W, H = 1211, 940
fig = plt.figure(figsize=(W / 100, H / 100), dpi=100)
fmt = FuncFormatter(lambda v, pos: '%g' % round(v, 6))

for p in panels:
    x0, y0, x1, y1 = p['rect']
    ax = fig.add_axes([x0 / W, 1 - y1 / H, (x1 - x0) / W, (y1 - y0) / H])
    handles = {}
    for name, pts, col, sty in p['series']:
        r = [a for a, _ in pts]
        g = [b for _, b in pts]
        z = 1 if sty is dashed else 2
        line, = ax.plot(r, g, color=col, zorder=z, **sty)
        handles[name] = line
    ax.set_xlim(0, 0.8)
    ax.set_ylim(0, p['ymax'])
    ax.xaxis.set_major_locator(MultipleLocator(0.2))
    ax.xaxis.set_minor_locator(MultipleLocator(0.1))
    ax.yaxis.set_major_locator(MultipleLocator(p['ymajor']))
    ax.yaxis.set_minor_locator(MultipleLocator(p['yminor']))
    ax.xaxis.set_major_formatter(fmt)
    ax.yaxis.set_major_formatter(fmt)
    ax.tick_params(which='both', direction='in', top=True, right=True, labelsize=13, colors='black', pad=4)
    ax.tick_params(axis='x', which='major', pad=p['xpad'])
    ax.tick_params(which='major', length=9, width=1.0)
    ax.tick_params(which='minor', length=5, width=1.0)
    for sp in ax.spines.values():
        sp.set_linewidth(1.3)
    ax.set_xlabel('r', fontsize=p['r_size'])
    ax.xaxis.set_label_coords(0.5, -p['r_off'] / (y1 - y0))
    names = [s[0] for s in p['series']]
    leg = ax.legend([handles[n] for n in names], names, loc='upper left', bbox_to_anchor=p['leg_anchor'],
                    fontsize=12, frameon=True, fancybox=False, edgecolor='black', framealpha=1,
                    handlelength=0.8, handletextpad=0.6, labelspacing=0.2, borderpad=0.5, borderaxespad=0)
    leg.get_frame().set_linewidth(1.0)
    fig.text(p['title_xy'][0] / W, 1 - p['title_xy'][1] / H, p['title'], ha='center', va='center',
             fontsize=19, fontweight='bold')

fig.savefig('out.png', dpi=100)
